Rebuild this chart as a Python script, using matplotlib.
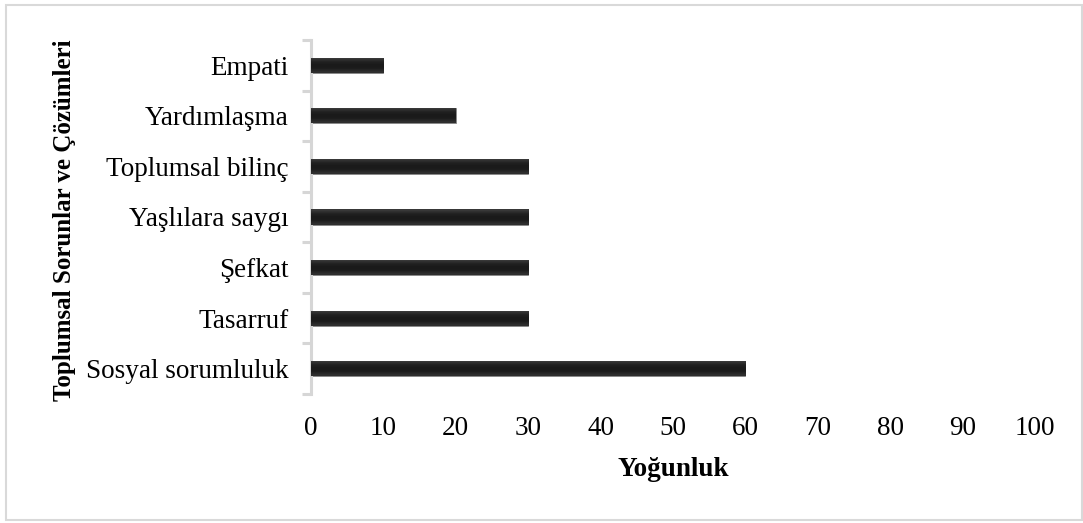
import numpy as np
import matplotlib.pyplot as plt
from matplotlib.patches import Rectangle

plt.rcParams['font.family'] = ['Liberation Serif', 'DejaVu Serif']

# Kategoriler (alttan üste) ve yoğunluk değerleri
kategoriler = ['Sosyal sorumluluk', 'Tasarruf', 'Şefkat', 'Yaşlılara saygı',
               'Toplumsal bilinç', 'Yardımlaşma', 'Empati']
yogunluk = [60, 30, 30, 30, 30, 20, 10]
x_ticks = [0, 10, 20, 30, 40, 50, 60, 70, 80, 90, 100]

FS = 19.5

fig = plt.figure(figsize=(10.83, 5.23), dpi=100)
ax = fig.add_axes([0.287, 0.2467, 0.6687, 0.6768])

y = np.arange(len(kategoriler))
bars = ax.barh(y, yogunluk, height=0.3, color='#1b1b1b', edgecolor='#8a8a8a',
               linewidth=0.6, zorder=2)

# hafif parlak kenarlı koyu dolgu
grad = np.array([[0.22], [0.13], [0.10], [0.11], [0.18]])
for b in bars:
    x0, y0 = b.get_x(), b.get_y()
    im = ax.imshow(grad, cmap='gray', vmin=0, vmax=1, aspect='auto',
                   extent=(x0, x0 + b.get_width(), y0, y0 + b.get_height()),
                   interpolation='bilinear', zorder=3)
    im.set_clip_path(b)

ax.set_xlim(0, 100)
ax.set_ylim(-0.5, len(kategoriler) - 0.5)
ax.set_xticks(x_ticks)
ax.set_yticks(y)
ax.set_yticklabels(kategoriler)
ax.set_yticks(np.arange(-0.5, len(kategoriler)), minor=True)

for s in ['top', 'right', 'bottom']:
    ax.spines[s].set_visible(False)
ax.spines['left'].set_color('#d6d6d6')
ax.spines['left'].set_linewidth(2.2)

ax.tick_params(axis='y', which='major', length=0, pad=16, labelsize=FS)
ax.tick_params(axis='y', which='minor', length=6.5, width=2.2, color='#d6d6d6')
ax.tick_params(axis='x', length=0, pad=16, labelsize=FS)

fig.text(673 / 1083, 1 - 470 / 523, 'Yoğunluk', ha='center', va='center',
         fontsize=FS, fontweight='bold')
fig.text(65 / 1083, 1 - 220 / 523, 'Toplumsal Sorunlar ve Çözümleri',
         ha='center', va='center', rotation=90, fontsize=18, fontweight='bold')

# dış çerçeve
fig.patches.append(Rectangle((6 / 1083, 3 / 523), 1 - 7 / 1083, 1 - 8 / 523,
                             transform=fig.transFigure, fill=False,
                             edgecolor='#d9d9d9', linewidth=1.5))

fig.savefig('out.png', dpi=100)
